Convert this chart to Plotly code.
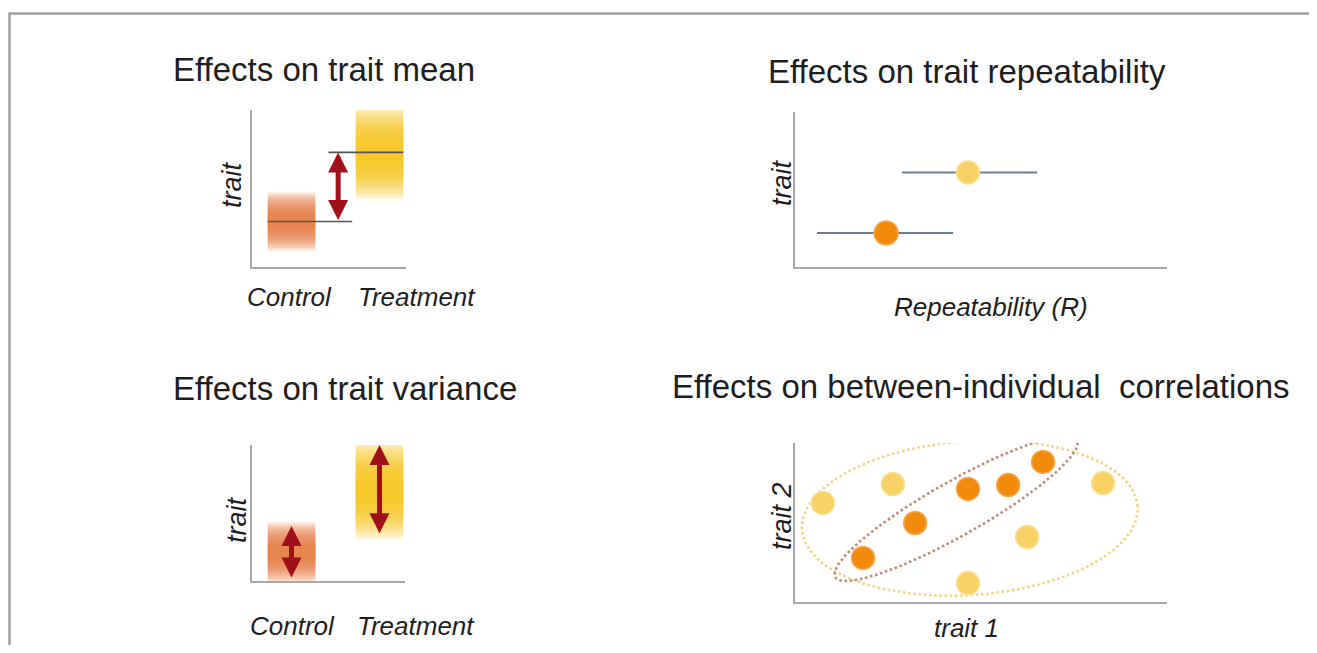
import numpy as np
import plotly.graph_objects as go

# page has an 8px body margin; figure is sized to fit inside it
OFF = 8
W, H = 1317 - 2 * OFF, 653 - 2 * OFF

# ---------------- data ----------------
# Panel 1: effects on trait mean
groups = ["Control", "Treatment"]
group_pos = [1, 2]
mean_trait = [2.9, 7.3]
mean_spread = [1.8, 2.85]

# Panel 2: effects on repeatability
rep_R = [0.245, 0.465]
rep_lo = [0.059, 0.288]
rep_hi = [0.425, 0.651]
rep_trait = [2.2, 6.1]

# Panel 3: effects on variance
var_mean = [2.1, 6.7]
var_spread = [1.95, 3.3]

# Panel 4: between-individual correlations
ctrl_t1 = [1.83, 3.23, 4.65, 5.73, 6.67]
ctrl_t2 = [2.77, 4.97, 7.11, 7.36, 8.81]
trt_t1 = [0.75, 2.63, 6.24, 4.65, 8.28]
trt_t2 = [6.23, 7.42, 4.09, 1.19, 7.48]
# ellipses: centre, major half-axis vector, minor half-axis vector (data units)
ell_trt = dict(c=(4.70, 5.28), u=(4.51, 0.74), v=(-0.145, 4.83))
ell_ctrl = dict(c=(4.33, 5.88), u=(3.25, 4.31), v=(-0.36, 1.48))

# ---------------- styles ----------------
ORANGE_BAND = "#ea7d40"
YELLOW_BAND = "#f9c318"
ORANGE_PT = "#f28a0c"
YELLOW_PT = "#f8d266"
ARROW = "#a0101a"
AXIS = "#a8a8a8"
TXT = "#1e1e1e"
FONT = "Liberation Sans, Arial, sans-serif"


def fx(px):
    return (px - OFF) / W


def fy(py):
    return 1 - (py - OFF) / H


fig = go.Figure()

domains = {
    1: ((252, 406), (110, 267)),
    2: ((795, 1167), (112, 267)),
    3: ((252, 405), (445, 581)),
    4: ((795, 1167), (443, 602)),
}
ranges = {
    1: ([0.551, 2.301], [0, 10]),
    2: ([0, 1], [0, 10]),
    3: ([0.551, 2.290], [0, 10]),
    4: ([0, 10], [0, 10]),
}
layout_axes = {}
for k, ((x0, x1), (y0, y1)) in domains.items():
    sx = "" if k == 1 else str(k)
    common = dict(showline=True, linecolor=AXIS, linewidth=2, showticklabels=False,
                  ticks="", showgrid=False, zeroline=False, fixedrange=True)
    layout_axes["xaxis" + sx] = dict(domain=[fx(x0), fx(x1)], range=ranges[k][0],
                                     anchor="y" + sx, **common)
    layout_axes["yaxis" + sx] = dict(domain=[fy(y1), fy(y0)], range=ranges[k][1],
                                     anchor="x" + sx, **common)

shapes = []
annotations = []
HALF_W = 0.27
N_LAYERS = 18


def band(xref, yref, xc, yc, half, color):
    for i in range(N_LAYERS):
        h = half * (1.05 - 0.85 * i / (N_LAYERS - 1))
        shapes.append(dict(type="rect", xref=xref, yref=yref, x0=xc - HALF_W, x1=xc + HALF_W,
                           y0=yc - h, y1=yc + h, fillcolor=color, opacity=0.12,
                           line=dict(width=0), layer="below"))


def darrow(xref, yref, x, y_from, y_to):
    annotations.append(dict(x=x, y=y_to, ax=x, ay=y_from, xref=xref, yref=yref,
                            axref=xref, ayref=yref, text="", showarrow=True,
                            arrowhead=2, startarrowhead=2, arrowside="end+start",
                            arrowsize=0.8, startarrowsize=0.8, arrowwidth=5,
                            arrowcolor=ARROW, standoff=0, startstandoff=0))


band_colors = [ORANGE_BAND, YELLOW_BAND]

# Panel 1
arrow_x = 1.53
for i in range(2):
    band("x", "y", group_pos[i], mean_trait[i], mean_spread[i], band_colors[i])
shapes.append(dict(type="line", xref="x", yref="y", x0=group_pos[0] - HALF_W, x1=arrow_x + 0.16,
                   y0=mean_trait[0], y1=mean_trait[0], line=dict(color="#555555", width=1.6)))
shapes.append(dict(type="line", xref="x", yref="y", x0=arrow_x - 0.11, x1=group_pos[1] + HALF_W,
                   y0=mean_trait[1], y1=mean_trait[1], line=dict(color="#555555", width=1.6)))
darrow("x", "y", arrow_x, mean_trait[0], mean_trait[1])

# Panel 3
for i in range(2):
    band("x3", "y3", group_pos[i], var_mean[i], var_spread[i] + 0.2, band_colors[i])
    darrow("x3", "y3", group_pos[i], var_mean[i] - var_spread[i], var_mean[i] + var_spread[i])

# Panel 2
pt_colors = [ORANGE_PT, YELLOW_PT]
edge_colors = ["#f6a850", "#fbe090"]
for i in range(2):
    fig.add_trace(go.Scatter(
        x=[rep_R[i]], y=[rep_trait[i]], mode="markers", xaxis="x2", yaxis="y2",
        marker=dict(size=24 if i == 0 else 23, color=pt_colors[i],
                    line=dict(color=edge_colors[i], width=1.5)),
        error_x=dict(type="data", symmetric=False, array=[rep_hi[i] - rep_R[i]],
                     arrayminus=[rep_R[i] - rep_lo[i]], width=0, thickness=2, color="#6a7b98"),
        showlegend=False, hoverinfo="skip"))

# Panel 4 ellipses
t = np.linspace(0, 2 * np.pi, 300)
for ell, col in [(ell_trt, "#f0d687"), (ell_ctrl, "#b9917c")]:
    ex = ell["c"][0] + ell["u"][0] * np.cos(t) + ell["v"][0] * np.sin(t)
    ey = ell["c"][1] + ell["u"][1] * np.cos(t) + ell["v"][1] * np.sin(t)
    fig.add_trace(go.Scatter(x=ex, y=ey, mode="lines", xaxis="x4", yaxis="y4",
                             line=dict(color=col, width=2.6, dash="2.6px,2.6px"),
                             showlegend=False, hoverinfo="skip"))
fig.add_trace(go.Scatter(x=trt_t1, y=trt_t2, mode="markers", xaxis="x4", yaxis="y4",
                         marker=dict(size=23, color=YELLOW_PT, line=dict(color="#fbe090", width=1.5)),
                         showlegend=False, hoverinfo="skip"))
fig.add_trace(go.Scatter(x=ctrl_t1, y=ctrl_t2, mode="markers", xaxis="x4", yaxis="y4",
                         marker=dict(size=23, color=ORANGE_PT, line=dict(color="#f6a850", width=1.5)),
                         showlegend=False, hoverinfo="skip"))


# ---------------- texts ----------------
def text(s, px, py, size, angle=0, italic=False):
    annotations.append(dict(text=f"<i>{s}</i>" if italic else s, x=fx(px), y=fy(py),
                            xref="paper", yref="paper", showarrow=False, textangle=angle,
                            xanchor="center", yanchor="middle",
                            font=dict(family=FONT, size=size, color=TXT)))


TS = 33
text("Effects on trait mean", 324, 70, TS)
text("Effects on trait repeatability", 967, 72, TS)
text("Effects on trait variance", 345, 388, TS)
text("Effects on between-individual\u00a0 correlations", 981, 386, TS)

LS = 26
text(groups[0], 289, 297, LS, italic=True)
text(groups[1], 417, 297, LS, italic=True)
text(groups[0], 292, 626, LS, italic=True)
text(groups[1], 416, 626, LS, italic=True)
text("trait", 232, 185, 27, angle=-90, italic=True)
text("trait", 237, 520, 27, angle=-90, italic=True)
text("trait", 782, 183, 27, angle=-90, italic=True)
text("trait 2", 782, 516, 27, angle=-90, italic=True)
text("trait 1", 966, 628, LS, italic=True)
text("Repeatability (R)", 991, 307, LS, italic=True)

# outer frame
shapes.append(dict(type="rect", xref="paper", yref="paper", x0=fx(9.5), x1=1.05,
                   y0=-0.05, y1=fy(13.5), line=dict(color="#a0a0a0", width=2.5),
                   fillcolor="rgba(0,0,0,0)", layer="below"))

fig.update_layout(width=W, height=H, margin=dict(l=0, r=0, t=0, b=0),
                  paper_bgcolor="white", plot_bgcolor="rgba(0,0,0,0)",
                  shapes=shapes, annotations=annotations, showlegend=False,
                  **layout_axes)

fig.write_html("out.html", config={"displayModeBar": False})
